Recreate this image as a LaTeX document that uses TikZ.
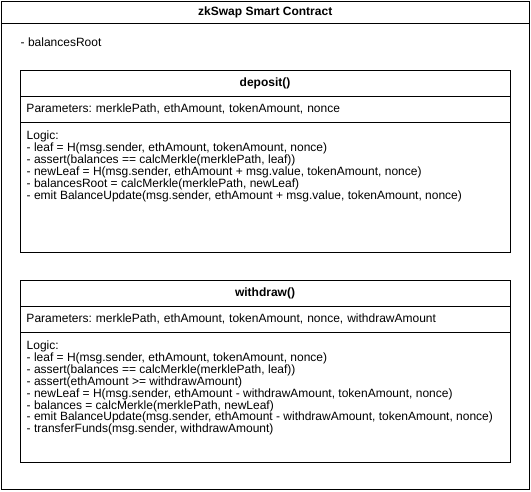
\documentclass[tikz,border=0pt]{standalone}
\usepackage{fontspec}
\setmainfont{Liberation Sans}
\usetikzlibrary{positioning}

\tikzset{
	umlbox/.style={draw, line width=1pt, inner sep=0pt, outer sep=0pt},
	umlhead/.style={umlbox, minimum width=490pt, minimum height=25.5pt, font=\fontsize{12}{11.9}\selectfont\bfseries},
	umlpart/.style={umlbox, minimum width=490pt, text width=477pt, inner xsep=6.5pt, align=left, font=\fontsize{12}{11.9}\selectfont},
	umltext/.style={anchor=north west, inner sep=0pt, align=left, font=\fontsize{12}{11.9}\selectfont}
}

\begin{document}
\frenchspacing
\begin{tikzpicture}[x=1pt, y=-1pt]
		\useasboundingbox (0,0) rectangle (531,491);
		
		% class frame
		\node[umlbox, anchor=north west, minimum width=528.5pt, minimum height=488pt] (contract) at (1,1) {};
		\node[anchor=north, minimum width=528.5pt, minimum height=22pt, inner sep=0pt, font=\fontsize{12}{11.9}\selectfont\bfseries] (contracttitle) at (contract.north) {zkSwap Smart Contract};
		\draw[line width=1pt] (contracttitle.south west) -- (contracttitle.south east);
		\node[umltext, anchor=west] (balancesroot) at (20.5,42) {- balancesRoot};
		
		% deposit()
		\node[umlhead, anchor=north west] (deposit) at (20,70.5) {deposit()};
		\node[umlpart, minimum height=26pt, below=0pt of deposit] (depositparams) {Parameters: merklePath, ethAmount, tokenAmount, nonce};
		\node[umlbox, minimum width=490pt, minimum height=130pt, below=0pt of depositparams] (depositlogic) {};
		\node[umltext] (depositlogictext) at ([shift={(6.5pt,-8.6pt)}]depositlogic.north west) {Logic:\\
			- leaf = H(msg.sender, ethAmount, tokenAmount, nonce)\\
			- assert(balances == calcMerkle(merklePath, leaf))\\
			- newLeaf = H(msg.sender, ethAmount + msg.value, tokenAmount, nonce)\\
			- balancesRoot = calcMerkle(merklePath, newLeaf)\\
			- emit BalanceUpdate(msg.sender, ethAmount + msg.value, tokenAmount, nonce)};
		
		% withdraw()
		\node[umlhead, anchor=north west] (withdraw) at (20,280.5) {withdraw()};
		\node[umlpart, minimum height=26pt, below=0pt of withdraw] (withdrawparams) {Parameters: merklePath, ethAmount, tokenAmount, nonce, withdrawAmount};
		\node[umlbox, minimum width=490pt, minimum height=130pt, below=0pt of withdrawparams] (withdrawlogic) {};
		\node[umltext] (withdrawlogictext) at ([shift={(6.5pt,-8.6pt)}]withdrawlogic.north west) {Logic:\\
			- leaf = H(msg.sender, ethAmount, tokenAmount, nonce)\\
			- assert(balances == calcMerkle(merklePath, leaf))\\
			- assert(ethAmount >= withdrawAmount)\\
			- newLeaf = H(msg.sender, ethAmount - withdrawAmount, tokenAmount, nonce)\\
			- balances = calcMerkle(merklePath, newLeaf)\\
			- emit BalanceUpdate(msg.sender, ethAmount - withdrawAmount, tokenAmount, nonce)\\
			- transferFunds(msg.sender, withdrawAmount)};
	\end{tikzpicture}
\end{document}
